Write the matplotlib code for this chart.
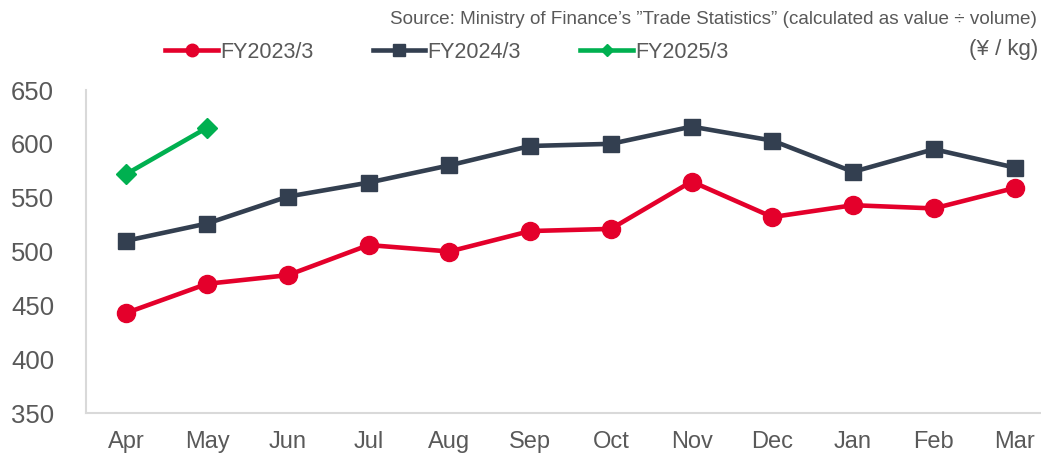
import matplotlib
matplotlib.use("Agg")
import matplotlib.pyplot as plt
from matplotlib.lines import Line2D

plt.rcParams['font.family'] = ['Liberation Sans', 'DejaVu Sans']

months = ["Apr", "May", "Jun", "Jul", "Aug", "Sep", "Oct", "Nov", "Dec", "Jan", "Feb", "Mar"]
fy2023 = [443, 470, 478, 506, 500, 519, 521, 565, 532, 543, 540, 559]
fy2024 = [510, 526, 551, 564, 580, 598, 600, 616, 603, 574, 595, 578]
fy2025 = [572, 615]
series_names = ["FY2023/3", "FY2024/3", "FY2025/3"]
yticks = [350, 400, 450, 500, 550, 600, 650]

red = "#E4002B"
navy = "#333F50"
green = "#00B050"
gray = "#595959"

W, H = 1041, 457
fig = plt.figure(figsize=(W / 100, H / 100), dpi=100)
ax = fig.add_axes([86 / W, 44 / H, (1055 - 86) / W, 323 / H])

x = list(range(len(months)))
ax.plot(x, fy2023, color=red, lw=3.3, marker="o", ms=13, zorder=3)
ax.plot(x, fy2024, color=navy, lw=3.3, marker="s", ms=12, zorder=3)
ax.plot(x[:len(fy2025)], fy2025, color=green, lw=3.3, marker="D", ms=10, zorder=3)

ax.set_xlim(-0.5, len(months) - 0.5)
ax.set_ylim(350, 650)
ax.set_yticks(yticks)
ax.set_xticks(x)
ax.set_xticklabels(months)
ax.tick_params(axis="y", length=0, labelsize=18.5, labelcolor=gray, pad=23)
ax.tick_params(axis="x", length=0, labelsize=17, labelcolor=gray, pad=13)
for s in ["top", "right"]:
    ax.spines[s].set_visible(False)
for s in ["left", "bottom"]:
    ax.spines[s].set_color("#D9D9D9")
    ax.spines[s].set_linewidth(1.5)

handles = [
    Line2D([], [], color=red, lw=3.3, marker="o", ms=9),
    Line2D([], [], color=navy, lw=3.3, marker="s", ms=8.5),
    Line2D([], [], color=green, lw=3.3, marker="D", ms=6),
]
fig.legend(handles, series_names, loc="center left", bbox_to_anchor=(146 / W, 1 - 52 / H),
           ncol=3, frameon=False, fontsize=15.5, handlelength=2.45, handletextpad=0.1,
           columnspacing=2.75, labelcolor=gray)

fig.text(1037 / W, 1 - 19 / H, "Source: Ministry of Finance\u2019s \u201dTrade Statistics\u201d (calculated as value \u00f7 volume)",
         ha="right", va="center", fontsize=13.6, color=gray)
fig.text(1038 / W, 1 - 50 / H, "(\u00a5 / kg)", ha="right", va="center", fontsize=16, color=gray)

fig.savefig("out.png", dpi=100)
